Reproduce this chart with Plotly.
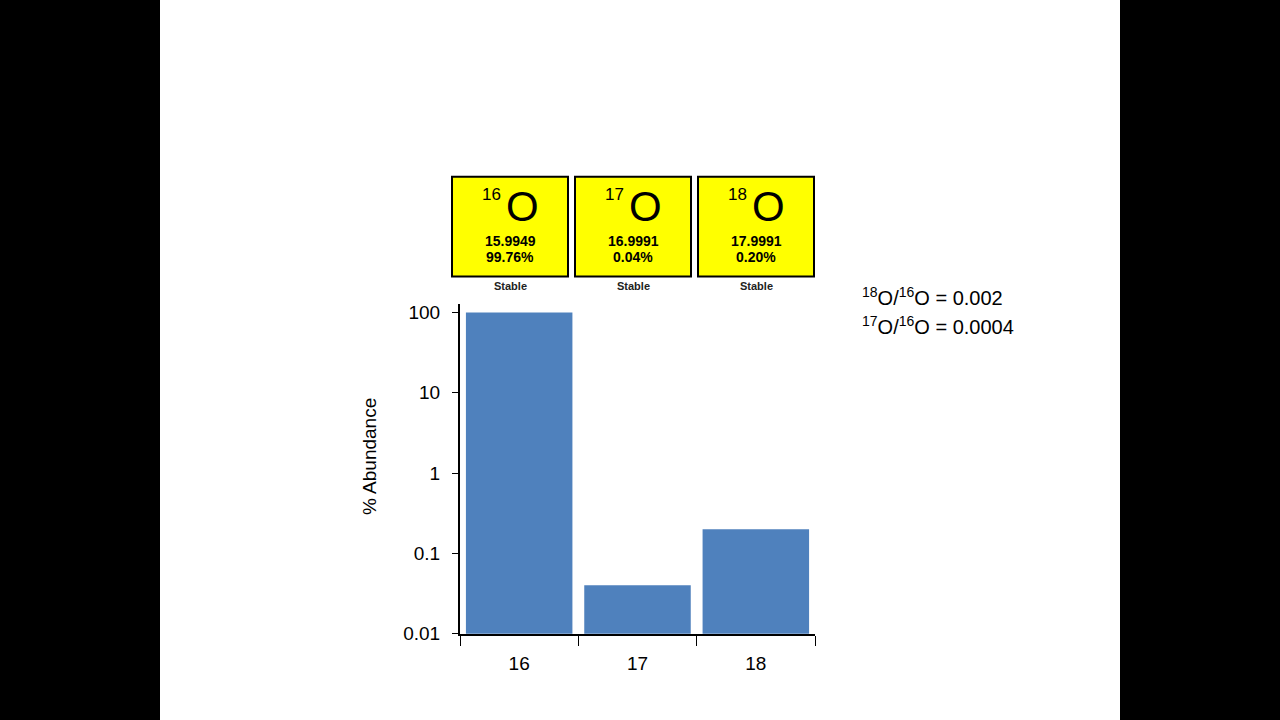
import plotly.graph_objects as go

isotopes = ["16", "17", "18"]
abundance = [99.76, 0.04, 0.20]
masses = ["15.9949", "16.9991", "17.9991"]
pct_labels = ["99.76%", "0.04%", "0.20%"]
stability = ["Stable", "Stable", "Stable"]
tick_vals = [0.01, 0.1, 1, 10, 100]
tick_text = ["0.01", "0.1", "1", "10", "100"]

W, H = 1280, 720
def px(x): return x / W
def py(y): return 1 - ((y - 2) / 0.984) / H

FONT = "Liberation Sans, Arial, sans-serif"

fig = go.Figure(go.Bar(x=isotopes, y=abundance, marker=dict(color="#4f81bd", line=dict(width=0))))

def ann(x, y, text, size, xanchor="center", bold=False, color="black", **kw):
    return dict(x=px(x), y=py(y), xref="paper", yref="paper", showarrow=False,
                xanchor=xanchor, yanchor="middle", text=f"<b>{text}</b>" if bold else text,
                font=dict(size=size, family=FONT, color=color), **kw)

shapes = [dict(type="rect", xref="paper", yref="paper", x0=px(160), x1=px(1120), y0=-0.05, y1=1.05,
               fillcolor="white", line=dict(width=0), layer="below")]
annotations = []
box_x = [452, 575, 698]
for i, x0 in enumerate(box_x):
    x1 = x0 + 116
    shapes.append(dict(type="rect", xref="paper", yref="paper", x0=px(x0), x1=px(x1),
                       y0=py(277), y1=py(177), fillcolor="#ffff00",
                       line=dict(color="black", width=2)))
    cx = (x0 + x1) / 2
    annotations += [
        ann(cx + 12, 207, "O", 42),
        ann(cx - 7, 195, isotopes[i], 17, xanchor="right"),
        ann(cx, 241, masses[i], 14, bold=True),
        ann(cx, 258, pct_labels[i], 14, bold=True),
        ann(cx, 287, stability[i], 11, bold=True, color="#222"),
    ]
annotations += [
    ann(860, 297, "<sup>18</sup>O/<sup>16</sup>O = 0.002", 20, xanchor="left"),
    ann(860, 326, "<sup>17</sup>O/<sup>16</sup>O = 0.0004", 20, xanchor="left"),
    ann(369, 458, "% Abundance", 19, textangle=-90),
]

fig.update_layout(
    width=W, height=H, autosize=False, margin=dict(l=0, r=0, t=0, b=0),
    paper_bgcolor="black", plot_bgcolor="white", showlegend=False, bargap=0.1,
    shapes=shapes, annotations=annotations,
    font=dict(family=FONT, size=18, color="black"),
    xaxis=dict(domain=[px(460), px(815)], showline=True, linecolor="black", linewidth=2,
               ticks="outside", tickson="boundaries", ticklen=10, tickcolor="black",
               showgrid=False, tickfont=dict(size=19), ticklabelstandoff=12),
    yaxis=dict(domain=[py(635), py(305)], type="log", range=[-2, 2.1],
               showline=True, linecolor="black", linewidth=2, ticks="outside", ticklen=6,
               tickcolor="black", showgrid=False, tickvals=tick_vals, ticktext=tick_text,
               tickfont=dict(size=19), ticklabelstandoff=8),
)
fig.write_html("out.html", config={"displayModeBar": False, "responsive": False},
               default_width="1280px", default_height="720px")
with open("out.html") as f:
    html = f.read()
html = html.replace("<head>", "<head><style>html,body{margin:0;padding:0;overflow:hidden;background:black}</style>", 1)
with open("out.html", "w") as f:
    f.write(html)
